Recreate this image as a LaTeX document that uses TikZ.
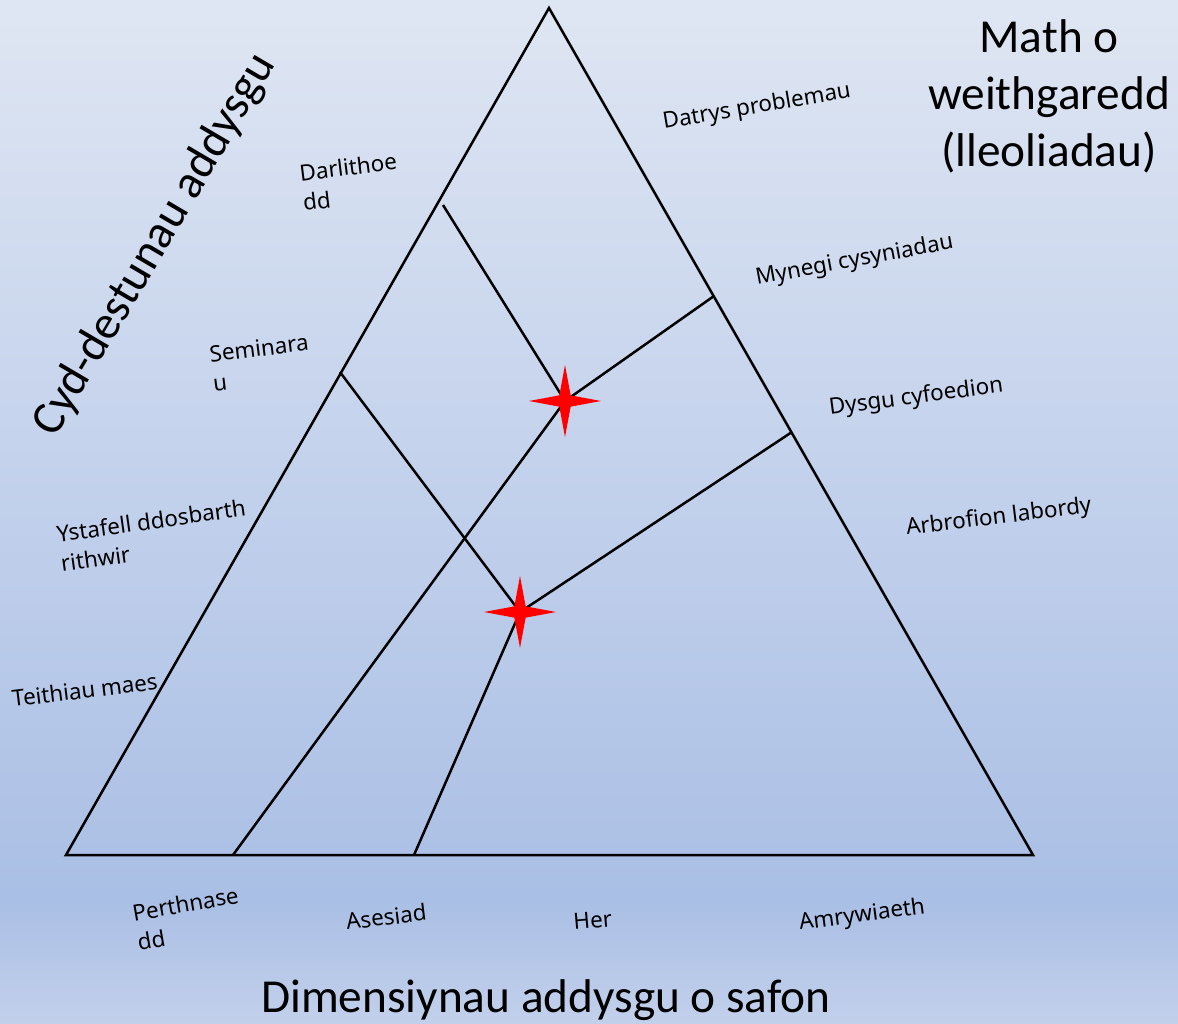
\documentclass[tikz,border=0pt]{standalone}
\usepackage{fontspec}
\setmainfont{Noto Sans}
\newfontfamily\titlefont{Carlito}
\usetikzlibrary{shapes.geometric}

\definecolor{bgtop}{HTML}{DFE6F3}
\definecolor{bgmid}{HTML}{AABFE5}
\definecolor{bgbot}{HTML}{C2D0EB}

\begin{document}
\begin{tikzpicture}[
    x=1bp, y=-1bp,
    side/.style={line width=2.5bp, line join=miter},
    link/.style={line width=2.5bp},
    spark/.style={star, star points=4, star point ratio=4.5, minimum size=72bp, inner sep=0pt, fill=red, draw=none},
    lbl/.style={font=\fontsize{22.5}{30}\selectfont, inner sep=0pt, align=left, anchor=base west},
    heading/.style={font=\titlefont\fontsize{47.5}{57}\selectfont, inner sep=0pt, align=center}
]
% Background
\useasboundingbox (0,0) rectangle (1178,1024);
\shade[top color=bgtop, bottom color=bgmid] (0,0) rectangle (1178,900);
\shade[top color=bgmid, bottom color=bgbot] (0,900) rectangle (1178,1024);

% Triangle
\coordinate (top) at (549,8);
\coordinate (bl) at (66,855);
\coordinate (br) at (1033,855);
\draw[side] (top) -- (bl) -- (br) -- cycle;

% Inner lines
\coordinate (l1) at (443,205);
\coordinate (l2) at (340,372);
\coordinate (r1) at (714,296);
\coordinate (r2) at (792,432);
\coordinate (b1) at (233,855);
\coordinate (b2) at (414,855);
\coordinate (k1) at (565,401);
\coordinate (k2) at (520,612);
\draw[link] (l1) -- (k1);
\draw[link] (r1) -- (k1) -- (b1);
\draw[link] (l2) -- (k2);
\draw[link] (r2) -- (k2) -- (b2);

% Stars
\node[spark] (s1) at (k1) {};
\node[spark] (s2) at (k2) {};

% Right side labels
\node[lbl, rotate=9.6] (datrys) at (664,129) {Datrys problemau};
\node[lbl, rotate=10.5] (mynegi) at (757,285) {Mynegi cysyniadau};
\node[lbl, rotate=7.5] (dysgu) at (830,415) {Dysgu cyfoedion};
\node[lbl, rotate=7] (arbrofion) at (907,535) {Arbrofion labordy};

% Left side labels (anchored at the last line)
\node[lbl, rotate=7] (darlith) at (304,211) {Darlithoe\\dd};
\node[lbl, rotate=7] (seminar) at (214,392) {Seminara\\u};
\node[lbl, rotate=8] (ystafell) at (62,572) {Ystafell ddosbarth\\rithwir};
\node[lbl, rotate=7] (teithiau) at (13,707) {Teithiau maes};

% Bottom labels
\node[lbl, rotate=10] (perthnas) at (139,951) {Perthnase\\dd};
\node[lbl, rotate=7] (asesiad) at (347,930) {Asesiad};
\node[lbl, rotate=5] (her) at (574,930) {Her};
\node[lbl, rotate=7.5] (amryw) at (800,930) {Amrywiaeth};

% Titles
\node[heading, anchor=base] (math) at (1049,166) {Math o\\weithgaredd\\(lleoliadau)};
\node[heading, rotate=59.5] (cyd) at (155,245) {Cyd-destunau addysgu};
\node[heading, anchor=base] (dimens) at (546,1012) {Dimensiynau addysgu o safon};
\end{tikzpicture}
\end{document}
